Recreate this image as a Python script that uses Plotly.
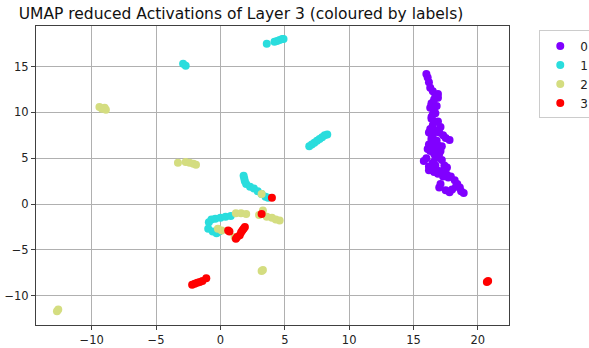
import plotly.graph_objects as go

labels = ["0", "1", "2", "3"]
colors = ["#8000ff", "#2adddd", "#d4dd80", "#ff0000"]

x0 = [16.0, 16.1, 16.2, 16.3, 16.5, 16.7, 16.6, 16.4, 16.3, 16.6, 16.5, 16.4, 16.6, 16.5, 16.3,
      16.8, 17.0, 17.3, 17.5, 17.8, 16.5, 16.4, 16.6, 16.2, 16.5, 16.8, 16.3, 16.6, 17.0, 16.0,
      15.8, 16.9, 17.2, 16.5, 16.7, 17.4, 16.3, 16.6, 17.0, 17.3, 17.6, 17.9, 18.2, 18.4, 18.6,
      18.7, 18.9, 17.1, 17.0, 17.5, 17.8, 16.2, 17.7, 16.1, 16.9, 16.4,
      16.9, 16.8, 16.7, 16.9, 17.1, 16.2, 16.4, 16.8, 17.2, 16.2, 16.7, 17.6, 17.3, 16.9,
      18.0, 18.3, 16.6, 17.1, 16.4, 16.9]
y0 = [14.2, 13.8, 13.3, 12.7, 12.3, 11.9, 11.4, 11.0, 10.5, 10.2, 9.8, 9.3, 9.0, 8.6, 8.2,
      8.0, 7.8, 7.5, 7.2, 7.0, 7.5, 7.0, 6.8, 6.5, 6.2, 6.0, 5.8, 5.5, 5.5, 5.0,
      4.7, 5.2, 4.8, 4.5, 4.2, 4.2, 3.8, 3.5, 3.6, 3.4, 3.2, 3.0, 2.6, 2.2, 1.8,
      1.4, 1.2, 2.2, 1.8, 1.5, 1.3, 3.7, 2.9, 6.0, 6.4, 10.8,
      11.6, 10.7, 9.9, 9.0, 8.4, 7.8, 7.2, 6.9, 6.3, 4.1, 5.0, 4.0, 3.0, 3.3,
      1.6, 1.9, 7.9, 5.8, 9.5, 12.0]

x1 = [-2.9, -2.7, 3.6, 4.2, 4.4, 4.6, 4.8, 4.9,
      6.9, 7.1, 7.3, 7.5, 7.7, 7.9, 8.1, 8.3,
      1.8, 1.85, 1.9, 2.0, 2.3, 2.6, 2.9, 3.2, 3.5, 3.7,
      -0.9, -0.7, -0.4, 0.0, 0.4, 0.8, -0.95, -0.6, -0.3, -0.1]
y1 = [15.3, 15.1, 17.5, 17.7, 17.8, 17.9, 18.0, 18.0,
      6.3, 6.5, 6.7, 6.9, 7.1, 7.3, 7.5, 7.6,
      3.1, 2.8, 2.5, 2.2, 1.9, 1.7, 1.4, 1.1, 0.8, 0.7,
      -2.0, -1.7, -1.6, -1.5, -1.4, -1.3, -2.7, -3.0, -3.2, -3.0]

x2 = [-9.4, -9.2, -9.0, -8.9, -3.3, -2.7, -2.4, -2.1, -1.9,
      -12.7, -12.6, 3.2, 3.3,
      1.2, 1.6, 2.0, 3.0, 3.3, 3.6, 4.0, 4.3, 4.6,
      -0.2, 0.1, 1.1, 3.2]
y2 = [10.6, 10.4, 10.5, 10.3, 4.5, 4.6, 4.5, 4.4, 4.3,
      -11.7, -11.5, -7.3, -7.2,
      -1.0, -1.0, -1.1, -1.2, -0.7, -1.4, -1.5, -1.7, -1.8,
      -2.7, -2.9, -3.6, 1.1]

x3 = [4.0, 3.2, 0.6, 0.7, 1.2, 1.3, 1.5, 1.6, 1.7, 1.8, 1.9,
      -2.2, -2.0, -1.8, -1.6, -1.4, -1.1, 20.7, 20.8]
y3 = [0.7, -1.1, -2.9, -3.0, -3.8, -3.6, -3.4, -3.1, -2.9, -2.7, -2.5,
      -8.8, -8.7, -8.6, -8.5, -8.4, -8.1, -8.5, -8.4]

xs = [x0, x1, x2, x3]
ys = [y0, y1, y2, y3]

fig = go.Figure()
for lab, col, xv, yv in zip(labels, colors, xs, ys):
    fig.add_trace(go.Scatter(x=xv, y=yv, mode="markers", name=lab,
                             marker=dict(color=col, size=8, line=dict(width=0))))

axis_common = dict(showgrid=True, gridcolor="#b0b0b0", gridwidth=1, zeroline=False,
                   showline=True, linecolor="#404040", linewidth=1, mirror=True,
                   ticks="outside", ticklen=4, tickcolor="#404040", automargin=False,
                   tickfont=dict(family="DejaVu Sans", size=11.5, color="#222"))

fig.update_layout(
    template="none",
    width=589, height=348,
    margin=dict(l=36, r=80, t=26, b=23, autoexpand=False),
    paper_bgcolor="white", plot_bgcolor="white",
    title=dict(text="UMAP reduced Activations of Layer 3 (coloured by labels)",
               x=241 / 589, xanchor="center", y=1 - 14 / 348, yanchor="middle",
               font=dict(family="DejaVu Sans", size=15.5, color="#111")),
    xaxis=dict(range=[-14.33, 22.42], tickvals=[-10, -5, 0, 5, 10, 15, 20], **axis_common),
    yaxis=dict(range=[-13.2, 19.43], tickvals=[-10, -5, 0, 5, 10, 15], **axis_common),
    legend=dict(x=1.064, y=0.985, xanchor="left", yanchor="top",
                bordercolor="#cccccc", borderwidth=1, bgcolor="white",
                font=dict(family="DejaVu Sans", size=12, color="#222"),
                itemwidth=30, itemsizing="trace", tracegroupgap=0),
    showlegend=True,
)

fig.write_html("out.html")
